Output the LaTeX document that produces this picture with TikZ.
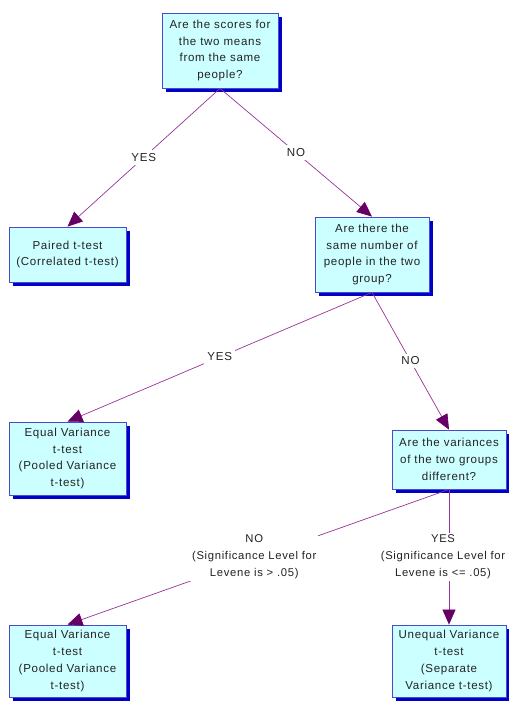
\documentclass[tikz,border=0pt]{standalone}
\usepackage{fontspec}
\setmainfont{Liberation Sans}[LetterSpace=6]
\usetikzlibrary{arrows.meta,shadows}
\definecolor{boxfill}{HTML}{CCFFFF}
\definecolor{boxline}{HTML}{4A4ACF}
\definecolor{shadowblue}{HTML}{0000C8}
\definecolor{linkcol}{HTML}{993399}
\definecolor{tipcol}{HTML}{660066}
\definecolor{txt}{HTML}{222222}
\tikzset{
  decision/.style={draw=boxline, line width=0.8bp, fill=boxfill, align=center,
    inner sep=0pt, text=txt,
    font=\fontsize{11.6}{17}\selectfont,
    drop shadow={shadow xshift=4bp, shadow yshift=-4bp, fill=shadowblue, opacity=1}},
  link/.style={draw=linkcol, line width=0.7bp,
    -{Triangle[length=15bp,width=13bp,fill=tipcol,color=tipcol]}},
  answer/.style={fill=white, align=center, text=txt, inner sep=3bp,
    font=\fontsize{11.6}{17}\selectfont},
  longanswer/.style={answer, inner sep=2bp, font=\fontsize{11.3}{17}\selectfont}
}
\begin{document}
\begin{tikzpicture}[x=1bp,y=-1bp]
\useasboundingbox (0,0) rectangle (509,704);
\fill[white] (0,0) rectangle (509,704);

% decision and result boxes
\node[decision, minimum width=116bp, minimum height=75bp] (q1) at (220,50.5)
  {Are the scores for\\the two means\\from the same\\people?};
\node[decision, minimum width=117bp, minimum height=55bp] (paired) at (67.5,254.5)
  {Paired t-test\\(Correlated t-test)};
\node[decision, minimum width=114bp, minimum height=75bp] (q2) at (372,254.5)
  {Are there the\\same number of\\people in the two\\group?};
\node[decision, minimum width=117bp, minimum height=73bp] (eq1) at (67.5,458.5)
  {Equal Variance\\t-test\\(Pooled Variance\\t-test)};
\node[decision, minimum width=114bp, minimum height=59bp] (q3) at (449,459.5)
  {Are the variances\\of the two groups\\different?};
\node[decision, minimum width=117bp, minimum height=72bp] (eq2) at (67.5,661)
  {Equal Variance\\t-test\\(Pooled Variance\\t-test)};
\node[decision, minimum width=114bp, minimum height=72bp] (uneq) at (449,661)
  {Unequal Variance\\t-test\\(Separate\\Variance t-test)};

% connectors with their answers
\draw[link] (q1.south) -- node[answer] {YES} (paired.north);
\draw[link] (q1.south) -- node[answer] {NO} (q2.north);
\draw[link] (q2.south) -- node[answer] {YES} (eq1.north);
\draw[link] (q2.south) -- node[answer] {NO} (q3.north);
\draw[link] (q3.south) -- node[longanswer, xshift=-4bp] {NO\\(Significance Level for\\Levene is > .05)} (eq2.north);
\draw[link] (q3.south) -- node[longanswer, xshift=-6bp] {YES\\(Significance Level for\\Levene is <= .05)} (uneq.north);
\end{tikzpicture}
\end{document}
